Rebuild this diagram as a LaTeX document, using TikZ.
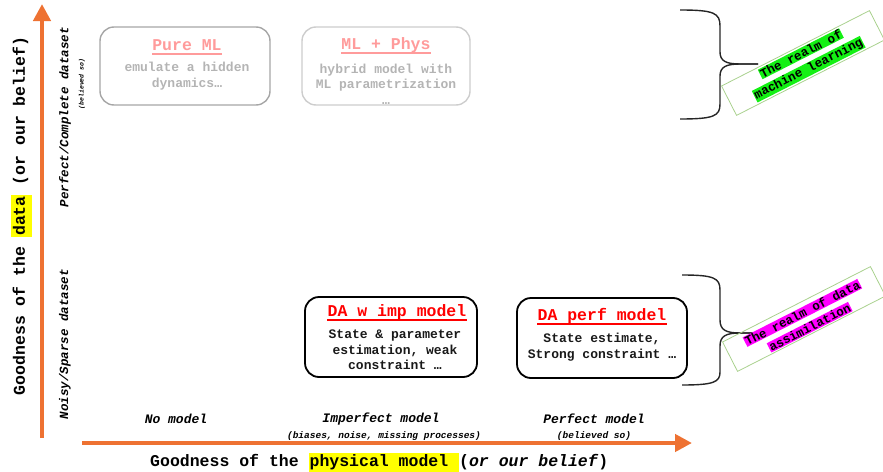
\documentclass[tikz,border=0pt]{standalone}
\usepackage{fontspec}
\setmainfont{Liberation Mono}
\usetikzlibrary{arrows.meta}

\definecolor{axisorange}{RGB}{238,114,50}
\definecolor{hlyellow}{RGB}{255,255,0}
\definecolor{hlgreen}{RGB}{20,240,20}
\definecolor{hlmagenta}{RGB}{255,0,255}
\definecolor{realmframe}{RGB}{169,209,142}
\definecolor{fadedtitle}{RGB}{255,155,155}
\definecolor{fadedtext}{RGB}{180,180,180}
\definecolor{fadedframeA}{RGB}{166,166,166}
\definecolor{fadedframeB}{RGB}{205,205,205}
\definecolor{darred}{RGB}{255,0,0}

% highlighter boxes
\newcommand{\hlbox}[2]{{\setlength{\fboxsep}{1pt}\colorbox{#1}{\strut #2}}}
\newcommand{\hltight}[2]{{\setlength{\fboxsep}{0.6pt}\colorbox{#1}{#2}}}
\newcommand{\fsz}[2]{\fontsize{#1}{#2}\selectfont}

\begin{document}
\begin{tikzpicture}[x=1pt,y=-1pt,
  axisline/.style={draw=axisorange, line width=4.5pt,
    -{Triangle[length=17pt,width=17pt]}},
  axistitle/.style={font=\bfseries\fsz{16.5}{19}, inner sep=0pt},
  axislabel/.style={font=\bfseries\itshape\fsz{13}{15}, inner sep=0pt},
  axisnote/.style={font=\bfseries\itshape\fsz{9.5}{11}, inner sep=0pt},
  dabox/.style={draw=black, line width=1.8pt, rounded corners=14pt},
  mlbox/.style={line width=1.4pt, rounded corners=14pt},
  boxtitle/.style={font=\bfseries\fsz{16.5}{19}, inner sep=0pt},
  boxbody/.style={font=\bfseries\fsz{13}{15.5}, inner sep=0pt, align=center},
  bracepath/.style={draw=black!85, line width=1.4pt},
  realmframe/.style={draw=realmframe, line width=0.8pt, rotate=27,
    minimum width=166pt, minimum height=33pt, inner sep=0pt},
  realmtext/.style={rotate=27, inner sep=0pt,
    align=center, font=\bfseries\fsz{12.5}{16}},
]
\useasboundingbox (0,0) rectangle (883,471);

% ---- axes ----
\coordinate (ybot) at (42,438);
\coordinate (ytop) at (42,4);
\coordinate (xleft) at (82,443);
\coordinate (xright) at (692,443);
\draw[axisline] (ybot) -- (ytop);
\draw[axisline] (xleft) -- (xright);

\node[axistitle, rotate=90] (ytitle) at (21,216)
  {Goodness of the \hlbox{hlyellow}{data} (or our belief)};
\node[axistitle, anchor=west] (xtitle) at (150,463)
  {Goodness of the \hlbox{hlyellow}{physical model }(\textit{or our belief})};

% vertical axis labels
\node[axislabel, rotate=90, font=\bfseries\itshape\fsz{12.5}{15}] (ygood) at (65,117) {Perfect/Complete dataset};
\node[axisnote, rotate=90, font=\bfseries\itshape\fsz{6.5}{8}] (ygoodnote) at (82,84) {(believed so)};
\node[axislabel, rotate=90, font=\bfseries\itshape\fsz{12.5}{15}] (ybad) at (65,344) {Noisy/Sparse dataset};

% horizontal axis labels
\node[axislabel] (nomodel) at (176,419) {No model};
\node[axislabel] (impmodel) at (381,419) {Imperfect model};
\node[axisnote] (impnote) at (384,436) {(biases, noise, missing processes)};
\node[axislabel] (perfmodel) at (594,419) {Perfect model};
\node[axisnote] (perfnote) at (594,436) {(believed so)};

% ---- upper (faded) boxes ----
\node[mlbox, draw=fadedframeA, minimum width=170pt, minimum height=78pt] (pureml) at (185,66) {};
\node[boxtitle, text=fadedtitle] (puremlT) at (187,45) {Pure ML};
\draw[fadedtitle, line width=1.8pt] ([yshift=-3.5pt]puremlT.base west) -- ([yshift=-3.5pt]puremlT.base east);
\node[boxbody, text=fadedtext] (puremlB) at (187,76) {emulate a hidden\\dynamics…};

\node[mlbox, draw=fadedframeB, minimum width=168pt, minimum height=78pt] (mlphys) at (386,66) {};
\node[boxtitle, text=fadedtitle] (mlphysT) at (386,45) {ML + Phys};
\draw[fadedtitle, line width=1.8pt] ([yshift=-3.5pt]mlphysT.base west) -- ([yshift=-3.5pt]mlphysT.base east);
\node[boxbody, text=fadedtext] (mlphysB) at (386,84) {hybrid model with\\ML parametrization\\…};

% ---- lower (DA) boxes ----
\node[dabox, minimum width=172pt, minimum height=80pt] (daimp) at (391,337) {};
\node[boxtitle, text=darred] (daimpT) at (397,312) {DA w imp model};
\draw[darred, line width=1.8pt] ([yshift=-3.5pt]daimpT.base west) -- ([yshift=-3.5pt]daimpT.base east);
\node[boxbody, text=black!90] (daimpB) at (395,350) {State \& parameter\\estimation, weak\\constraint …};

\node[dabox, minimum width=170pt, minimum height=80pt] (daperf) at (602,338) {};
\node[boxtitle, text=darred] (daperfT) at (602,316) {DA perf model};
\draw[darred, line width=1.8pt] ([yshift=-3.5pt]daperfT.base west) -- ([yshift=-3.5pt]daperfT.base east);
\node[boxbody, text=black!90] (daperfB) at (602,347) {State estimate,\\Strong constraint …};

% ---- braces ----
\draw[bracepath] (680,10) .. controls (714,10) and (720,13) .. (720,26)
  -- (720,52) .. controls (720,61) and (726,64) .. (740,64) -- (758,64);
\draw[bracepath] (758,64) -- (740,64) .. controls (726,64) and (720,67) .. (720,76)
  -- (720,104) .. controls (720,116) and (714,119) .. (680,119);

\draw[bracepath] (682,275) .. controls (714,275) and (720,278) .. (720,290)
  -- (720,320) .. controls (720,330) and (726,333) .. (740,333) -- (757,333);
\draw[bracepath] (757,333) -- (740,333) .. controls (726,333) and (720,336) .. (720,346)
  -- (720,372) .. controls (720,382) and (714,385) .. (682,385);

% ---- realm labels ----
\node[realmframe] (mlrealm) at (803,63) {};
\node[realmtext] (mlrealmT) at (805,62)
  {\hltight{hlgreen}{The realm of}\\\hltight{hlgreen}{machine learning}};
\node[realmframe] (darealm) at (804,319) {};
\node[realmtext] (darealmT) at (806,320)
  {\hltight{hlmagenta}{The realm of data}\\\hltight{hlmagenta}{assimilation}};
\end{tikzpicture}
\end{document}
